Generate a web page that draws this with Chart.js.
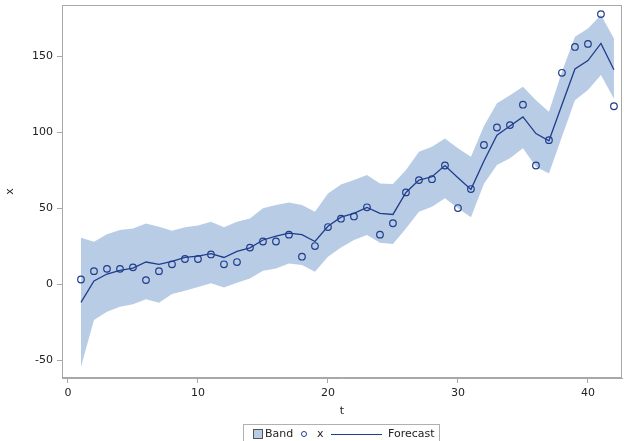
<!DOCTYPE html>
<html>
<head>
<meta charset="utf-8">
<script src="https://cdn.jsdelivr.net/npm/chart.js@4.4.1/dist/chart.umd.min.js"></script>
<style>
  body { margin: 0; background: #fff; }
  #wrap { position: relative; width: 629px; height: 441px; }
  #legend { position: absolute; left: 243px; top: 424px; width: 195px; height: 20px;
    border: 1px solid #b0b0b0; font: 11px "DejaVu Sans", sans-serif; color: #222; }
  #legend span { position: absolute; top: 2px; }
</style>
</head>
<body>
<div id="wrap">
  <canvas id="chart" width="629" height="441"></canvas>
  <div id="legend">
    <span style="left:9px;top:4px;width:8px;height:8px;background:#b9cce6;border:1px solid #555"></span>
    <span style="left:21px">Band</span>
    <span style="left:57px;top:6px;width:4px;height:4px;border:1.2px solid #1f3d8c;border-radius:50%"></span>
    <span style="left:73px">x</span>
    <span style="left:87px;top:9px;width:51px;height:0;border-top:1.3px solid #1f3d8c"></span>
    <span style="left:144px">Forecast</span>
  </div>
</div>
<script>
const t = [1,2,3,4,5,6,7,8,9,10,11,12,13,14,15,16,17,18,19,20,21,22,23,24,25,26,27,28,29,30,31,32,33,34,35,36,37,38,39,40,41,42];
const obs = [3, 8.5, 10, 10, 11, 2.6, 8.5, 13, 16.5, 16.5, 19.5, 13, 14.5, 24, 28, 28, 32.5, 18, 25, 37.5, 43, 44.5, 50.5, 32.5, 40, 60.3, 68.4, 69, 78, 50, 62.5, 91.5, 103, 104.6, 118, 78, 94.7, 139, 156, 158, 177.6, 117];
const forecast = [-12, 2, 6.6, 9, 10.5, 14.5, 13, 15, 17.5, 18.4, 20, 17.5, 21.5, 23.8, 29, 31.6, 33.5, 32.5, 28, 38, 44, 46.5, 50.4, 46.5, 45.8, 60.3, 68.4, 70.6, 78, 70, 62.3, 81, 98, 104, 110, 99, 94.3, 118, 141.5, 147, 158.3, 141];
const upper = [30.5, 27.8, 32.7, 35.5, 36.6, 39.9, 37.7, 35, 37.3, 38.6, 41, 37.3, 41, 43.2, 49.8, 52, 53.7, 52, 47.6, 59.6, 65.5, 68.4, 71.7, 66.2, 65.8, 75, 87, 90.3, 95.8, 89.3, 83.8, 104, 118.9, 124.3, 129.8, 121, 113.4, 139.7, 162.7, 168.2, 177, 161.6];
const lower = [-54.4, -23.7, -18.2, -14.9, -13.2, -10, -12.3, -6.6, -4.4, -2, 0.5, -2.2, 0.9, 3.7, 8.8, 10.3, 13.6, 12.5, 8.1, 18, 24, 29, 32.2, 27.2, 26.3, 36.6, 47.6, 50.9, 56.4, 49.8, 43.9, 66, 78.3, 82.7, 89.3, 77.2, 72.8, 96.9, 121, 127.6, 137.5, 122];
const xTicks = [0, 10, 20, 30, 40];
const yTicks = [-50, 0, 50, 100, 150];

const pts = arr => t.map((v, i) => ({x: v, y: arr[i]}));
const navy = '#1f3d8c';
const bandColor = '#b9cce6';
const frameColor = '#a8a8a8';
const font = {family: 'DejaVu Sans', size: 11};

// frame round the plot area
const frame = {
  id: 'frame',
  afterDraw(chart){
    const a = chart.chartArea, c = chart.ctx;
    c.save();
    c.strokeStyle = frameColor;
    c.lineWidth = 1;
    c.strokeRect(Math.round(a.left) + 0.5, Math.round(a.top) + 0.5, Math.round(a.right - a.left) - 1, Math.round(a.bottom - a.top) - 1);
    c.restore();
  }
};

new Chart(document.getElementById('chart'), {
  type: 'line',
  data: {
    datasets: [
      { label: 'x', data: pts(obs), showLine: false, pointRadius: 3.3, pointHoverRadius: 3.3,
        pointBorderColor: navy, pointBackgroundColor: 'rgba(0,0,0,0)', pointBorderWidth: 1.2 },
      { label: 'Forecast', data: pts(forecast), borderColor: navy, borderWidth: 1.3, pointRadius: 0, fill: false, tension: 0 },
      { label: 'Band', data: pts(upper), borderWidth: 0, borderColor: 'rgba(0,0,0,0)', pointRadius: 0,
        backgroundColor: bandColor, fill: '+1', tension: 0 },
      { label: 'lower', data: pts(lower), borderWidth: 0, borderColor: 'rgba(0,0,0,0)', pointRadius: 0, fill: false, tension: 0 }
    ]
  },
  options: {
    responsive: false,
    animation: false,
    layout: { padding: { top: 5, right: 7, left: 0, bottom: 19 } },
    plugins: { legend: { display: false }, tooltip: { enabled: false } },
    scales: {
      x: {
        type: 'linear', min: -0.46, max: 42.62,
        afterBuildTicks: s => { s.ticks = xTicks.map(v => ({value: v})); },
        afterFit: s => { s.height = 44; s.paddingLeft = 0; s.paddingRight = 0; },
        grid: { drawOnChartArea: false, tickLength: 5, color: frameColor },
        border: { color: frameColor },
        ticks: { font, color: '#222', padding: 4, maxRotation: 0 },
        title: { display: true, text: 't', font, color: '#222' }
      },
      y: {
        min: -61.8, max: 183.6,
        afterBuildTicks: s => { s.ticks = yTicks.map(v => ({value: v})); },
        afterFit: s => { s.width = 62; s.paddingTop = 0; s.paddingBottom = 0; },
        grid: { drawOnChartArea: false, tickLength: 5, color: frameColor },
        border: { color: frameColor },
        ticks: { font, color: '#222', padding: 4 },
        title: { display: true, text: 'x', font, color: '#222' }
      }
    }
  },
  plugins: [frame]
});
</script>
</body>
</html>
